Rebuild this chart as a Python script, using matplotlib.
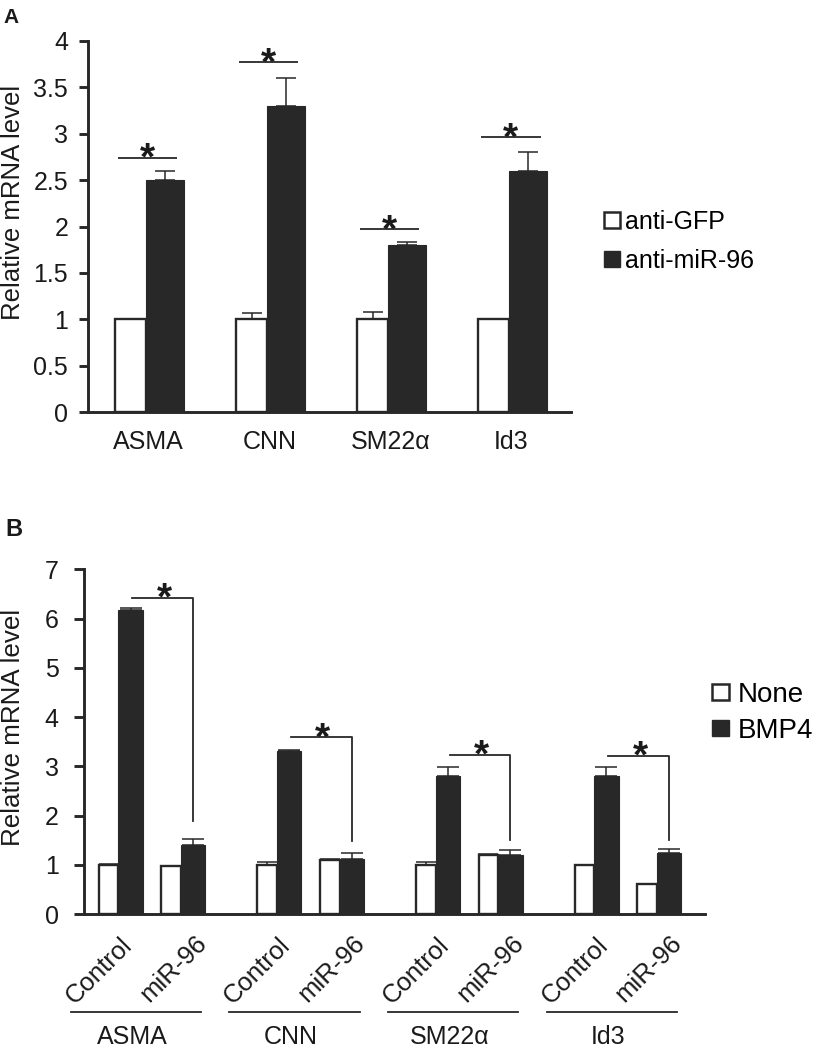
import numpy as np
import matplotlib
matplotlib.use('Agg')
import matplotlib.pyplot as plt
from matplotlib.patches import Patch
from matplotlib.transforms import blended_transform_factory

plt.rcParams['font.family'] = ['Liberation Sans', 'DejaVu Sans']

# ---------------- Panel A data ----------------
genes_a = ['ASMA', 'CNN', 'SM22α', 'Id3']
series_a = ['anti-GFP', 'anti-miR-96']
gfp_vals = [1.0, 1.0, 1.0, 1.0]
gfp_err = [0.0, 0.07, 0.08, 0.0]
mir_vals = [2.5, 3.3, 1.8, 2.6]
mir_err = [0.1, 0.3, 0.03, 0.2]
sig_a_y = [2.74, 3.77, 1.97, 2.96]
yticks_a = [0, 0.5, 1, 1.5, 2, 2.5, 3, 3.5, 4]
yticklabels_a = ['0', '0.5', '1', '1.5', '2', '2.5', '3', '3.5', '4']

# ---------------- Panel B data ----------------
genes_b = ['ASMA', 'CNN', 'SM22α', 'Id3']
conditions_b = ['Control', 'miR-96']
series_b = ['None', 'BMP4']
# order: ASMA-Control, ASMA-miR-96, CNN-Control, CNN-miR-96, ...
none_vals = [1.0, 0.97, 1.0, 1.1, 1.0, 1.2, 1.0, 0.6]
none_err = [0.01, 0.0, 0.05, 0.02, 0.05, 0.01, 0.0, 0.0]
bmp4_vals = [6.17, 1.40, 3.32, 1.11, 2.81, 1.20, 2.80, 1.23]
bmp4_err = [0.05, 0.12, 0.02, 0.12, 0.18, 0.10, 0.18, 0.10]
sig_b_y = [6.42, 3.59, 3.23, 3.21]
sig_b_drop = [1.89, 1.48, 1.50, 1.50]
yticks_b = [0, 1, 2, 3, 4, 5, 6, 7]

DARK = '#282828'
TXT = '#1a1a1a'

W, H = 814, 1050
fig = plt.figure(figsize=(W / 100, H / 100), dpi=100)


def px_axes(l, r, top, bottom):
    return fig.add_axes([l / W, 1 - bottom / H, (r - l) / W, (bottom - top) / H])


axA = px_axes(88, 571, 41, 412)
axB = px_axes(84, 705, 569.3, 914)

for ax in (axA, axB):
    ax.spines[['top', 'right']].set_visible(False)
    for s in ('left', 'bottom'):
        ax.spines[s].set_linewidth(2.1)
        ax.spines[s].set_color(DARK)
    ax.tick_params(axis='x', length=0, colors=TXT)
    ax.tick_params(axis='y', width=2.1, color=DARK, labelcolor=TXT)

STAR = dict(ha='center', va='baseline', fontsize=28, fontweight='bold', color=TXT,
            textcoords='offset points', xytext=(0, -8.5))

# ---------------- Panel A ----------------
xa = np.arange(len(genes_a))
axA.bar(xa - 0.128, gfp_vals, width=0.256, facecolor='white', edgecolor=DARK,
        linewidth=1.7, zorder=2)
axA.bar(xa + 0.157, mir_vals, width=0.314, facecolor=DARK, edgecolor=DARK,
        linewidth=0.8, zorder=3)
axA.errorbar(xa - 0.128, gfp_vals, yerr=[np.zeros(len(xa)), gfp_err], fmt='none',
             ecolor=DARK, elinewidth=1.1, capsize=7, capthick=1.1, zorder=4)
axA.errorbar(xa + 0.157, mir_vals, yerr=[np.zeros(len(xa)), mir_err], fmt='none',
             ecolor=DARK, elinewidth=1.1, capsize=7, capthick=1.1, zorder=4)
for i, y in enumerate(sig_a_y):
    axA.plot([i - 0.23, i + 0.26], [y, y], color=DARK, lw=1.3,
             solid_capstyle='butt', zorder=5)
    axA.annotate('*', xy=(i + 0.015, y), **STAR)
axA.set_xlim(-0.479, 3.512)
axA.set_ylim(0, 4)
axA.set_yticks(yticks_a)
axA.set_yticklabels(yticklabels_a, fontsize=18)
axA.tick_params(axis='y', length=6.3, pad=8)
axA.set_xticks(xa + 0.02)
axA.set_xticklabels(genes_a, fontsize=18)
axA.tick_params(axis='x', pad=13)

handlesA = [Patch(facecolor='white', edgecolor=DARK, linewidth=1.8),
            Patch(facecolor=DARK, edgecolor=DARK)]
fig.legend(handlesA, series_a, loc='upper left', bbox_to_anchor=(604 / W, 1 - 210 / H),
           frameon=False, fontsize=18, handlelength=0.64, handleheight=0.6,
           handletextpad=0.2, labelspacing=0.6, borderpad=0, borderaxespad=0)

# ---------------- Panel B ----------------
gene_step = 2.53
pos_ctrl = np.arange(len(genes_b)) * gene_step
base = np.ravel(np.column_stack([pos_ctrl, pos_ctrl + 1]))
axB.bar(base - 0.156, none_vals, width=0.313, facecolor='white', edgecolor=DARK,
        linewidth=1.7, zorder=2)
axB.bar(base + 0.195, bmp4_vals, width=0.39, facecolor=DARK, edgecolor=DARK,
        linewidth=0.8, zorder=3)
axB.errorbar(base - 0.156, none_vals, yerr=[np.zeros(len(base)), none_err], fmt='none',
             ecolor=DARK, elinewidth=1.1, capsize=7, capthick=1.1, zorder=4)
axB.errorbar(base + 0.195, bmp4_vals, yerr=[np.zeros(len(base)), bmp4_err], fmt='none',
             ecolor=DARK, elinewidth=1.1, capsize=8, capthick=1.1, zorder=4)
for g in range(len(genes_b)):
    x0 = pos_ctrl[g] + 0.195 + 0.03
    x1 = pos_ctrl[g] + 1 + 0.195
    y, yd = sig_b_y[g], sig_b_drop[g]
    axB.plot([x0, x1, x1], [y, y, yd], color=DARK, lw=1.3, zorder=5)
    axB.annotate('*', xy=((x0 + x1) / 2 + 0.02, y), **STAR)
axB.set_xlim(-0.547, 9.357)
axB.set_ylim(0, 7)
axB.set_yticks(yticks_b)
axB.set_yticklabels([str(v) for v in yticks_b], fontsize=18)
axB.tick_params(axis='y', length=7.2, pad=11)
axB.set_xticks([])

trB = blended_transform_factory(axB.transData, axB.transAxes)
cond_dx = [0.02, 0.21]
cond_y = [-0.0551, -0.0479]
for g, name in enumerate(genes_b):
    for c, cond in enumerate(conditions_b):
        axB.text(pos_ctrl[g] + c + cond_dx[c], cond_y[c], cond, transform=trB,
                 rotation=45, rotation_mode='anchor', ha='right', va='top',
                 fontsize=18.5, color=TXT)
    axB.plot([pos_ctrl[g] - 0.76, pos_ctrl[g] + 1.32], [-0.2834, -0.2834],
             transform=trB, clip_on=False, color=DARK, lw=1.3)
    axB.text(pos_ctrl[g] + 0.22, -0.378, name, transform=trB, ha='center',
             va='baseline', fontsize=18, color=TXT)

handlesB = [Patch(facecolor='white', edgecolor=DARK, linewidth=1.8),
            Patch(facecolor=DARK, edgecolor=DARK)]
fig.legend(handlesB, series_b, loc='upper left', bbox_to_anchor=(712 / W, 1 - 682 / H),
           frameon=False, fontsize=20, handlelength=0.61, handleheight=0.54,
           handletextpad=0.3, labelspacing=0.35, borderpad=0, borderaxespad=0)

# ---------------- Labels ----------------
fig.text(13.5 / W, 1 - 202.5 / H, 'Relative mRNA level', rotation=90, ha='center',
         va='center', fontsize=18.5, color=TXT)
fig.text(13.5 / W, 1 - 727 / H, 'Relative mRNA level', rotation=90, ha='center',
         va='center', fontsize=18.7, color=TXT)
fig.text(3 / W, 1 - 23.3 / H, 'A', fontsize=15, fontweight='bold', va='baseline',
         color=TXT)
fig.text(5 / W, 1 - 536 / H, 'B', fontsize=17, fontweight='bold', va='baseline',
         color=TXT)

fig.savefig('out.png', dpi=100)
